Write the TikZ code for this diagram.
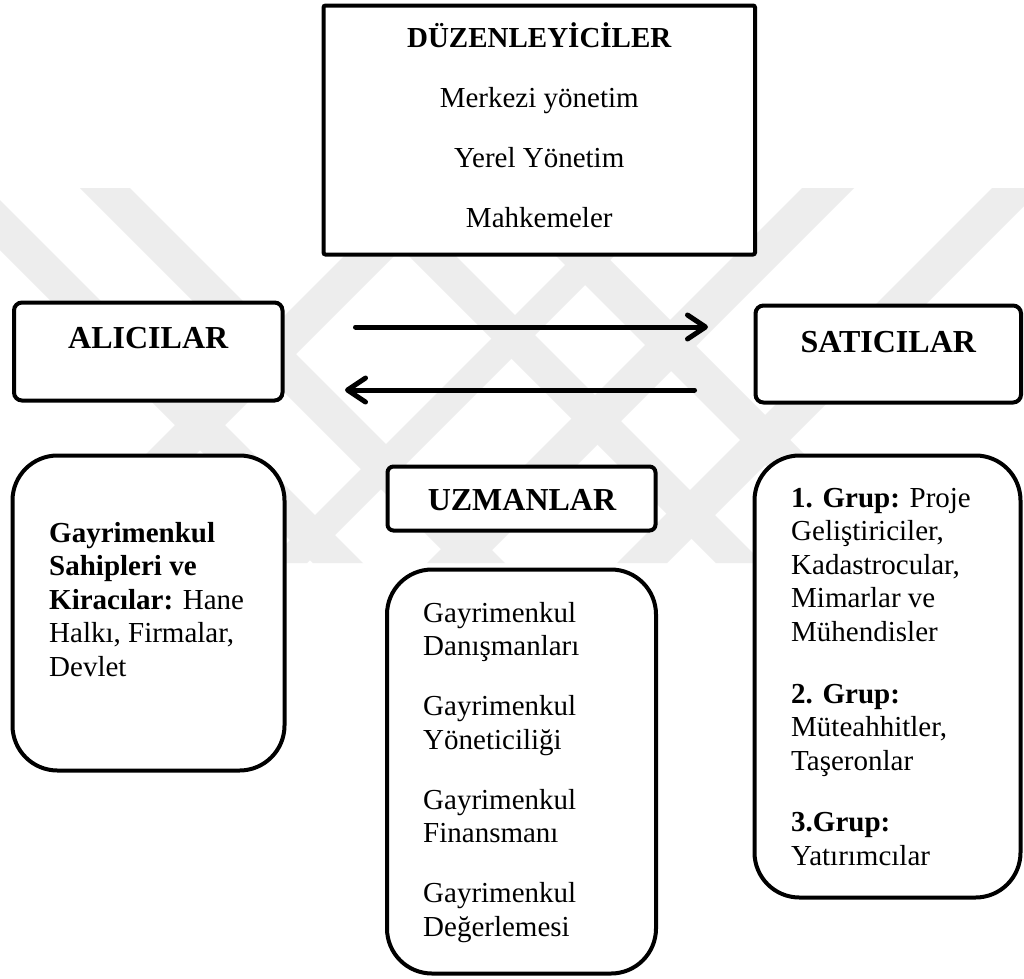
\documentclass[tikz,border=0pt]{standalone}
\usepackage{fontspec}
\setmainfont{Liberation Serif}
\usetikzlibrary{arrows.meta}
\begin{document}
\begin{tikzpicture}[x=1pt,y=-1pt,
  box/.style={draw, fill=white, line width=4pt, inner sep=0pt, outer sep=0pt},
  sbox/.style={box, rounded corners=8pt},
  bbox/.style={box, rounded corners=45pt},
  txt/.style={inner sep=0pt, align=left, font=\fontsize{29}{33.6}\selectfont},
  ctxt/.style={inner sep=0pt, font=\fontsize{29}{33.6}\selectfont},
  head/.style={inner sep=0pt, font=\fontsize{32}{36}\selectfont\bfseries},
  flow/.style={line width=5pt, line cap=round,
    -{Straight Barb[length=18pt,width=24pt,line cap=round,line join=round]}},
  wmark/.style={fill=black!7},
]
\useasboundingbox (0,0) rectangle (1024,978);
\fill[white] (0,0) rectangle (1024,978);

% faint background watermark
\begin{scope}
\clip (0,188) rectangle (1024,563);
\foreach \a/\b in {-250/-200, -108/-58, 153/200, 300/350}
  \fill[wmark] (\a+188,188) -- (\b+188,188) -- (\b+563,563) -- (\a+563,563) -- cycle;
\foreach \a/\b in {600/650, 830/870, 990/1042, 1180/1230}
  \fill[wmark] (\a-188,188) -- (\b-188,188) -- (\b-563,563) -- (\a-563,563) -- cycle;
\end{scope}

% top box
\node[box, rounded corners=2pt, minimum width=431.5pt, minimum height=249pt] (duz) at (539.25,130) {};
\node[ctxt, anchor=base, font=\fontsize{29}{33.6}\selectfont\bfseries] (duzt) at (539.25,47) {DÜZENLEYİCİLER};
\node[ctxt, anchor=base] (m1) at (539.25,107) {Merkezi yönetim};
\node[ctxt, anchor=base] (m2) at (539.25,167) {Yerel Yönetim};
\node[ctxt, anchor=base] (m3) at (539.25,227) {Mahkemeler};

% buyers / sellers
\node[sbox, minimum width=268.5pt, minimum height=98pt] (alici) at (148.25,351.5) {};
\node[head, anchor=base] (alicit) at (148.25,348) {ALICILAR};
\node[sbox, minimum width=265.5pt, minimum height=97pt] (satici) at (888.25,354) {};
\node[head, anchor=base] (satict) at (888.25,352) {SATICILAR};

\coordinate (r1) at (0,327);
\coordinate (r2) at (0,390);
\draw[flow, shorten <=73pt, shorten >=47.5pt] (alici.east |- r1) -- (satici.west |- r1);
\draw[flow, shorten <=61pt, shorten >=62.5pt] (satici.west |- r2) -- (alici.east |- r2);

% lower boxes
\node[bbox, minimum width=272pt, minimum height=315pt] (own) at (148.5,613) {};
\node[txt, anchor=base west] (ownt) at (49,676.4)
  {\textbf{Gayrimenkul}\\\textbf{Sahipleri ve}\\\textbf{Kiracılar:} Hane\\Halkı, Firmalar,\\Devlet};

\node[box, rounded corners=6pt, minimum width=268pt, minimum height=64pt] (uzm) at (521.5,498.5) {};
\node[head, anchor=base] (uzmt) at (522,510.7) {UZMANLAR};

\node[bbox, minimum width=269pt, minimum height=404pt] (mid) at (521.5,771.5) {};
\node[txt, anchor=base west] (midt) at (423,936.4)
  {Gayrimenkul\\Danışmanları\\[26.4pt]Gayrimenkul\\Yöneticiliği\\[26.4pt]Gayrimenkul\\Finansmanı\\[26.4pt]Gayrimenkul\\Değerlemesi};

\node[bbox, minimum width=266pt, minimum height=442pt] (sel) at (887.5,676.5) {};
\node[txt, anchor=base west] (selt) at (791,865.4)
  {\textbf{1. Grup:} Proje\\Geliştiriciler,\\Kadastrocular,\\Mimarlar ve\\Mühendisler\\[28pt]\textbf{2. Grup:}\\Müteahhitler,\\Taşeronlar\\[28pt]\textbf{3.Grup:}\\Yatırımcılar};
\end{tikzpicture}
\end{document}
